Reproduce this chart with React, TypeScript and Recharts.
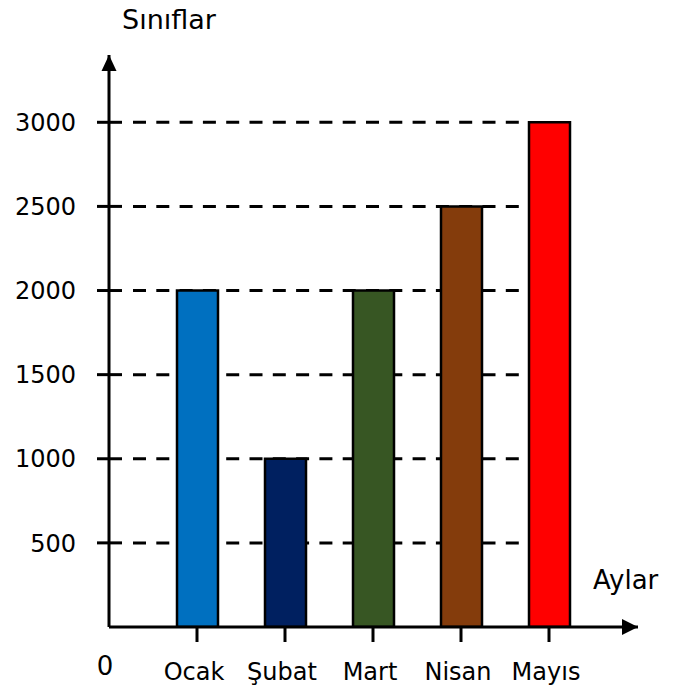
import React from 'react';
import { BarChart, Bar, XAxis, YAxis, CartesianGrid, Cell } from 'recharts';

const months = ['Ocak', 'Şubat', 'Mart', 'Nisan', 'Mayıs'];
const counts = [2000, 1000, 2000, 2500, 3000];
const barColors = ['#0070C0', '#002060', '#375623', '#843C0C', '#FF0000'];
const yTicks = [500, 1000, 1500, 2000, 2500, 3000];

const data = months.map((m, i) => ({ month: m, value: counts[i] }));

const FONT = 'DejaVu Sans, Verdana, sans-serif';

const YTick = (props: any) => {
  const { x, y, payload } = props;
  const axisX = x + 33;
  return (
    <g>
      <line x1={axisX - 12} x2={axisX + 13} y1={y} y2={y} stroke="#000" strokeWidth={3} />
      <text x={x} y={y} dy="0.36em" textAnchor="end" fontSize={24} fontFamily={FONT} fill="#000">
        {payload.value}
      </text>
    </g>
  );
};

const GridLine = (props: any) => {
  const { x1, y1, y2, index, y } = props;
  if (typeof y === 'number' && Math.abs(y1 - y) < 2) return <g key={`g-${index}`} />;
  return (
    <line
      key={`g-${index}`}
      x1={x1 + 24}
      x2={514}
      y1={y1}
      y2={y2}
      stroke="#000"
      strokeWidth={3}
      strokeDasharray="13 10.3"
    />
  );
};

export default function App() {
  return (
    <div style={{ position: 'relative', width: 670, height: 688, marginTop: -8 }}>
      <svg width={0} height={0} style={{ position: 'absolute' }}>
        <defs>
          <marker id="arrUp" markerUnits="userSpaceOnUse" markerWidth={16} markerHeight={16} refX={8} refY={0} viewBox="0 0 16 16" overflow="visible">
            <path d="M0.5,16 L8,0 L15.5,16 Z" fill="#000" />
          </marker>
          <marker id="arrRight" markerUnits="userSpaceOnUse" markerWidth={16} markerHeight={16} refX={16} refY={8} viewBox="0 0 16 16" overflow="visible">
            <path d="M0,0 L16,8 L0,16 Z" fill="#000" />
          </marker>
        </defs>
      </svg>
      <BarChart
        width={670}
        height={688}
        data={data}
        margin={{ top: 55, right: 40, bottom: 11, left: 0 }}
      >
        <CartesianGrid vertical={false} horizontal={GridLine as any} horizontalValues={yTicks} />
        <XAxis
          dataKey="month"
          height={50}
          padding={{ left: 44, right: 45 }}
          axisLine={{ stroke: '#000', strokeWidth: 3, markerEnd: 'url(#arrRight)' } as any}
          tickLine={{ stroke: '#000', strokeWidth: 3 }}
          tickSize={15}
          tickMargin={21}
          tick={{ fontSize: 24, fontFamily: FONT, fill: '#000', dx: -3 } as any}
          interval={0}
        />
        <YAxis
          width={101}
          domain={[0, 3400]}
          ticks={yTicks}
          allowDataOverflow
          axisLine={{ stroke: '#000', strokeWidth: 3, markerStart: 'url(#arrUp)' } as any}
          tickLine={false}
          tickSize={0}
          tickMargin={33}
          tick={<YTick />}
          interval={0}
        />
        <Bar dataKey="value" barSize={41} stroke="#000" strokeWidth={2.5} isAnimationActive={false}>
          {data.map((d, i) => (
            <Cell key={d.month} fill={barColors[i]} />
          ))}
        </Bar>
        <text x={114} y={29} fontSize={27} fontFamily={FONT} fill="#000">Sınıflar</text>
        <text x={585} y={589} fontSize={26} fontFamily={FONT} fill="#000">Aylar</text>
        <text x={97} y={675} fontSize={26} fontFamily={FONT} fill="#000" textAnchor="middle">0</text>
      </BarChart>
    </div>
  );
}
